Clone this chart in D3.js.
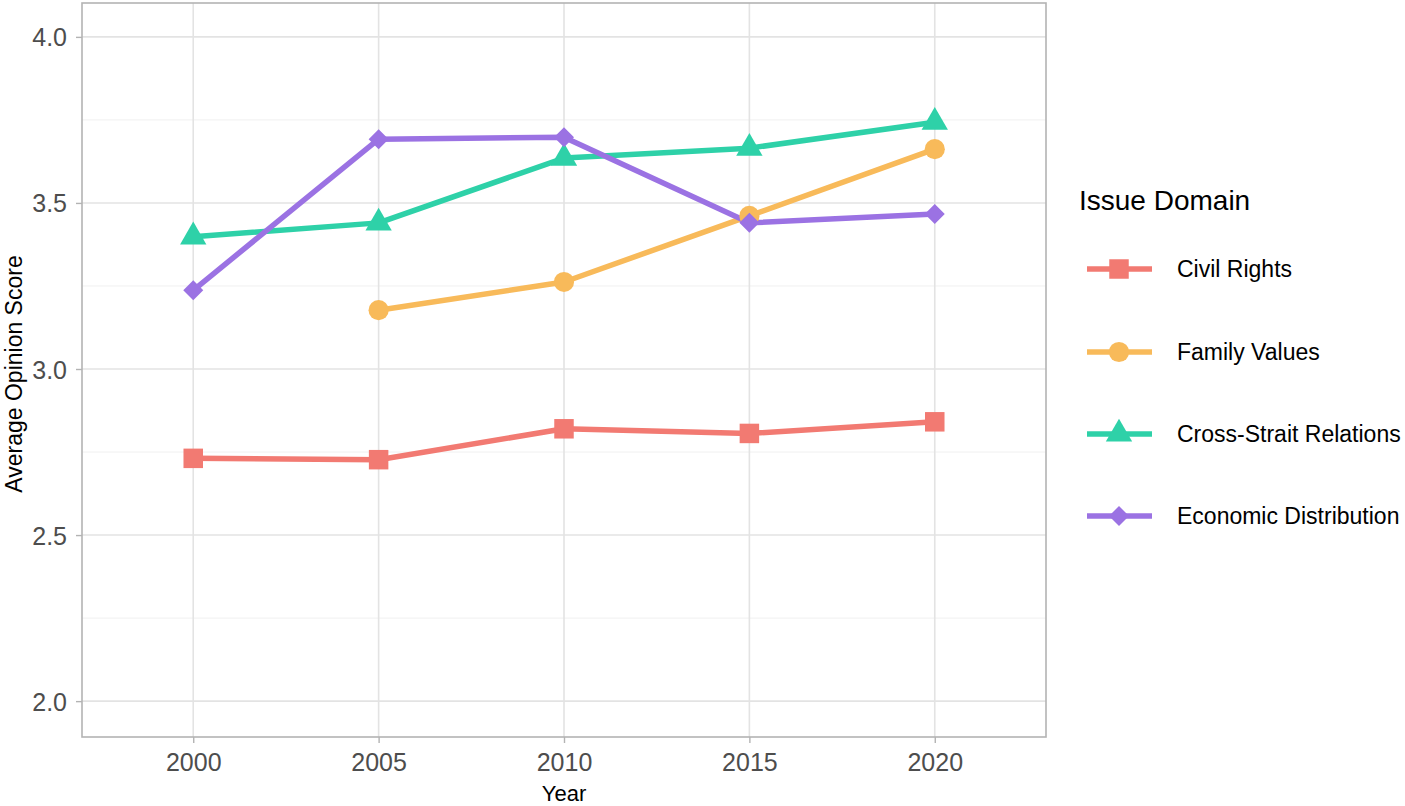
<!DOCTYPE html>
<html><head><meta charset="utf-8">
<script src="https://cdn.jsdelivr.net/npm/d3@7"></script>
<style>body{margin:0;background:#fff;font-family:"Liberation Sans",Arial,Helvetica,sans-serif;}</style>
</head><body><svg id="c" width="1405" height="806"></svg>
<script>
const years = [2000, 2005, 2010, 2015, 2020];
const seriesNames = ["Civil Rights", "Family Values", "Cross-Strait Relations", "Economic Distribution"];
const civilRights = [2.731, 2.727, 2.820, 2.806, 2.841];
const familyValues = [null, 3.177, 3.262, 3.461, 3.662];
const crossStrait = [3.398, 3.440, 3.635, 3.665, 3.743];
const economic = [3.237, 3.692, 3.698, 3.440, 3.467];
const yTicks = [2.0, 2.5, 3.0, 3.5, 4.0];
const yMinor = [2.25, 2.75, 3.25, 3.75];
const xTicks = [2000, 2005, 2010, 2015, 2020];
const colors = ["#F27A72", "#F8BA5A", "#2ED1A8", "#9B72E3"];
const shapes = ["square", "circle", "triangle", "diamond"];
const allValues = [civilRights, familyValues, crossStrait, economic];

const svg = d3.select("#c");
const L = 82, R = 1046, T = 3, B = 737;
const x = d3.scaleLinear().domain([1997, 2023]).range([L, R]);
const y = d3.scaleLinear().domain([1.892, 4.102]).range([B, T]);

// grid
const g = svg.append("g");
g.selectAll(".ymin").data(yMinor).join("line")
  .attr("x1", L).attr("x2", R).attr("y1", d => y(d)).attr("y2", d => y(d))
  .attr("stroke", "#F0F0F0").attr("stroke-width", 1);
g.selectAll(".ymaj").data(yTicks).join("line")
  .attr("x1", L).attr("x2", R).attr("y1", d => y(d)).attr("y2", d => y(d))
  .attr("stroke", "#E3E3E3").attr("stroke-width", 1.6);
g.selectAll(".xmaj").data(xTicks).join("line")
  .attr("y1", T).attr("y2", B).attr("x1", d => x(d)).attr("x2", d => x(d))
  .attr("stroke", "#E3E3E3").attr("stroke-width", 1.6);

// axes
const yAxis = svg.append("g").attr("transform", `translate(${L},0)`)
  .call(d3.axisLeft(y).tickValues(yTicks).tickFormat(d3.format(".1f")).tickSize(6).tickPadding(9));
const xAxis = svg.append("g").attr("transform", `translate(0,${B})`)
  .call(d3.axisBottom(x).tickValues(xTicks).tickFormat(d3.format("d")).tickSize(6).tickPadding(8));
[yAxis, xAxis].forEach(a => {
  a.select(".domain").remove();
  a.selectAll("line").attr("stroke", "#B3B3B3").attr("stroke-width", 1.4);
  a.selectAll("text").attr("fill", "#4D4D4D").style("font-size", "25px")
    .style("font-family", '"Liberation Sans",Arial,sans-serif');
});
yAxis.selectAll("text").attr("dy", "0.36em");
xAxis.selectAll("text").attr("dy", "0.78em");

// panel border
svg.append("rect").attr("x", L).attr("y", T).attr("width", R - L).attr("height", B - T)
  .attr("fill", "none").attr("stroke", "#B3B3B3").attr("stroke-width", 1.6);

// lines
const line = d3.line().defined(d => d.v != null).x(d => x(d.yr)).y(d => y(d.v));
const data = allValues.map((vals, i) => ({name: seriesNames[i], color: colors[i], shape: shapes[i],
  pts: years.map((yr, j) => ({yr, v: vals[j]}))}));
svg.append("g").selectAll("path").data(data).join("path")
  .attr("d", d => line(d.pts)).attr("fill", "none").attr("stroke", d => d.color)
  .attr("stroke-width", 5.5).attr("stroke-linejoin", "round");

function symbolPath(shape) {
  if (shape === "square") return d3.symbol(d3.symbolSquare, 380)();
  if (shape === "circle") return d3.symbol(d3.symbolCircle, 320)();
  if (shape === "triangle") return d3.symbol(d3.symbolTriangle, 300)();
  return "M0,-10L10,0L0,10L-10,0Z";
}
const pg = svg.append("g");
data.forEach(s => {
  pg.selectAll(null).data(s.pts.filter(p => p.v != null)).join("path")
    .attr("transform", p => `translate(${x(p.yr)},${y(p.v)})`)
    .attr("d", symbolPath(s.shape)).attr("fill", s.color);
});

// axis titles
svg.append("text").attr("x", (L + R) / 2).attr("y", 801).attr("text-anchor", "middle")
  .style("font-size", "22px").attr("fill", "#000").text("Year");
svg.append("text").attr("transform", `translate(22,${(T + B) / 2 + 4}) rotate(-90)`)
  .attr("text-anchor", "middle").style("font-size", "23px").attr("fill", "#000").text("Average Opinion Score");

// legend
const lg = svg.append("g");
lg.append("text").attr("x", 1079).attr("y", 210).style("font-size", "28px").attr("fill", "#000").text("Issue Domain");
const legY = [269, 352, 434, 516];
data.forEach((s, i) => {
  const gi = lg.append("g").attr("transform", `translate(1119,${legY[i]})`);
  gi.append("line").attr("x1", -32).attr("x2", 33).attr("stroke", s.color).attr("stroke-width", 5.5);
  gi.append("path").attr("d", symbolPath(s.shape)).attr("fill", s.color);
  lg.append("text").attr("x", 1177).attr("y", legY[i]).attr("dy", "0.35em")
    .style("font-size", "23px").attr("fill", "#000").text(s.name);
});
</script></body></html>
